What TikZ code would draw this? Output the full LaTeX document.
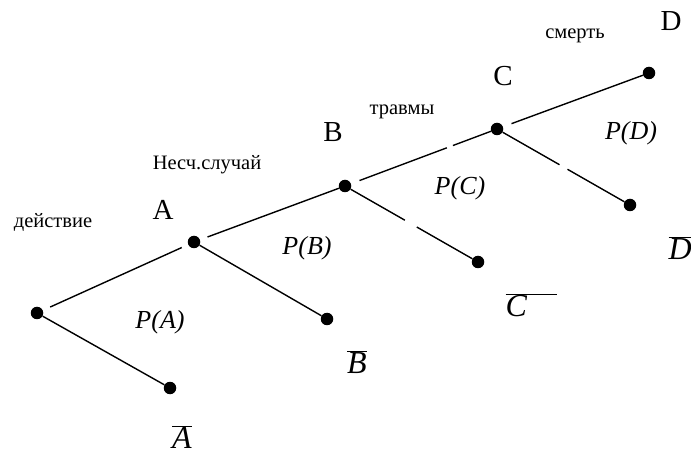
\documentclass[tikz,border=0pt]{standalone}
\usepackage{fontspec}
\setmainfont{Liberation Serif}
\usetikzlibrary{calc}

\begin{document}
\begin{tikzpicture}[x=1pt,y=-1pt,
        dot/.style={circle,fill=black,inner sep=0pt,minimum size=12.5pt},
        branch/.style={line width=1.4pt},
        event/.style={font=\fontsize{29}{31}\selectfont},
        word/.style={font=\fontsize{20.5}{22}\selectfont},
        prob/.style={font=\fontsize{26}{28}\selectfont\itshape},
        neg/.style={font=\fontsize{32}{34}\selectfont}]
        \useasboundingbox (0,0) rectangle (691,454);

        %%% points of the tree
        \node[dot] (o) at (37,313) {};
        \node[dot] (a) at (194,242) {};
        \node[dot] (na) at (170,388) {};
        \node[dot] (b) at (345,186) {};
        \node[dot] (nb) at (327,319) {};
        \node[dot] (c) at (497,129) {};
        \node[dot] (nc) at (478,262) {};
        \node[dot] (d) at (649,73) {};
        \node[dot] (nd) at (630,205) {};

        %%% names of the events
        \node[word] (act) at (53,222) {действие};
        \node[event] (la) at (163,210) {A};
        \node[word] (acc) at (207,165) {Несч.случай};
        \node[event] (lb) at (333,132) {B};
        \node[word] (inj) at (402,112) {травмы};
        \node[event] (lc) at (503,76) {C};
        \node[word] (dth) at (575,36) {смерть};
        \node[event] (ld) at (671,21) {D};

        %%% probabilities
        \node[prob] (pa) at (160,322) {P(A)};
        \node[prob] (pb) at (307,248) {P(B)};
        \node[prob] (pc) at (460,188) {P(C)};
        \node[prob] (pd) at (631,133) {P(D)};

        %%% opposite events
        \node[neg] (lna) at (182,437) {$\overline{\mbox{\itshape A}}$};
        \node[neg] (lnb) at (357,362) {$\overline{\mbox{\itshape B}}$};
        \node[neg,anchor=west] (lnc) at (502,305) {$\overline{\mbox{\itshape C}\hspace{0.95em}}$};
        \node[neg,anchor=west] (lnd) at (665,248) {$\overline{\mbox{\itshape D}}$};

        %%% branches
        \draw[branch,shorten <=8pt,shorten >=7pt] (o) -- (a);
        \draw[branch] (o) -- (na);
        \draw[branch,shorten <=8pt] (a) -- (b);
        \draw[branch] (a) -- (nb);
        \draw[branch,shorten <=9pt] (b) -- ($(b)!0.67!(c)$);
        \draw[branch] ($(b)!0.71!(c)$) -- (c);
        \draw[branch] (b) -- ($(b)!0.45!(nc)$);
        \draw[branch] ($(b)!0.54!(nc)$) -- (nc);
        \draw[branch,shorten <=9pt] (c) -- (d);
        \draw[branch] (c) -- ($(c)!0.47!(nd)$);
        \draw[branch] ($(c)!0.53!(nd)$) -- (nd);
\end{tikzpicture}
\end{document}
